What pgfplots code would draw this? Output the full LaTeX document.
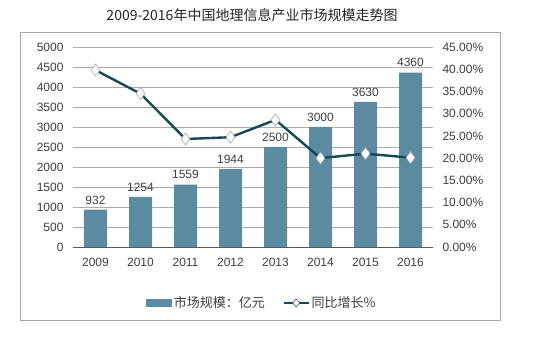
\documentclass[border=0pt]{standalone}
\usepackage{pgfplots}
\pgfplotsset{compat=1.18}
\usepackage{fontspec}
\setmainfont{Liberation Sans}
\newfontfamily\cjk{Noto Sans CJK SC}
\definecolor{barc}{RGB}{91,139,161}
\definecolor{linec}{RGB}{22,72,88}
\definecolor{txt}{RGB}{64,64,64}
\pgfkeys{/pgf/number format/1000 sep={}}
\begin{document}
\begin{tikzpicture}
\useasboundingbox (0pt,0pt) rectangle (535pt,355pt);
\fill[white] (0pt,0pt) rectangle (535pt,355pt);
\draw[gray!70, line width=0.8pt] (20pt,35pt) rectangle (500pt,323pt);
\node[font=\cjk\fontsize{14}{16}\selectfont, text=black!85] at (252pt,340pt) {2009-2016年中国地理信息产业市场规模走势图};
\begin{axis}[
  at={(73pt,108pt)}, anchor=south west, scale only axis,
  width=360pt, height=200pt,
  xmin=-0.5, xmax=7.5, ymin=0, ymax=5000,
  axis lines*=left,
  y axis line style={draw=none},
  x axis line style={draw=black!65, line width=0.8pt},
  major tick length=0pt,
  xtick={0,...,7},
  xticklabels={2009,2010,2011,2012,2013,2014,2015,2016},
  ytick={0,500,...,5000},
  ymajorgrids, grid style={gray!65, line width=0.6pt},
  tick label style={font=\fontsize{12}{14}\selectfont, text=txt},
  yticklabel style={xshift=-6pt},
  xticklabel style={yshift=-8pt},
  /pgf/number format/assume math mode=true,
  yticklabel={\pgfmathprintnumber[fixed, 1000 sep={}]{\tick}},
  ybar, bar width=23pt,
  nodes near coords={\pgfmathprintnumber[fixed, 1000 sep={}]{\pgfplotspointmeta}},
  every node near coord/.append style={font=\fontsize{12}{14}\selectfont, text=txt, yshift=2pt},
]
\addplot[fill=barc, draw=none] coordinates {(0,932) (1,1254) (2,1559) (3,1944) (4,2500) (5,3000) (6,3630) (7,4360)};
\end{axis}
\begin{axis}[
  at={(73pt,108pt)}, anchor=south west, scale only axis,
  width=360pt, height=200pt,
  xmin=-0.5, xmax=7.5, ymin=0, ymax=45,
  axis x line=none,
  axis y line*=right,
  y axis line style={draw=none},
  major tick length=0pt,
  ytick={0,5,...,45},
  tick label style={font=\fontsize{12}{14}\selectfont, text=txt},
  yticklabel style={xshift=6pt},
  /pgf/number format/assume math mode=true,
  yticklabel={\pgfmathprintnumber[fixed, fixed zerofill, precision=2]{\tick}\%},
  legend columns=2,
  legend style={at={(0.525,-0.28)}, anchor=center, draw=none, fill=none,
    font=\cjk\fontsize{13}{15}\selectfont, text=txt,
    /tikz/every even column/.append style={column sep=16pt}},
]
\addlegendimage{legend image code/.code={\fill[barc] (0pt,-3pt) rectangle (25pt,4pt);}}
\addlegendentry{市场规模：亿元}
\addplot[color=linec, line width=2.4pt, mark=diamond*, mark size=6pt,
  mark options={fill=white, draw=gray!70, line width=0.6pt},
  legend image code/.code={\draw[linec, line width=1.8pt] (0pt,0pt) -- (25pt,0pt); \draw[fill=white, draw=linec, line width=0.5pt] (12.5pt,-4pt) -- (16pt,0pt) -- (12.5pt,4pt) -- (9pt,0pt) -- cycle;}]
  coordinates {(0,39.8) (1,34.5) (2,24.3) (3,24.7) (4,28.6) (5,20.0) (6,21.0) (7,20.1)};
\addlegendentry{同比增长\%}
\end{axis}
\end{tikzpicture}
\end{document}
